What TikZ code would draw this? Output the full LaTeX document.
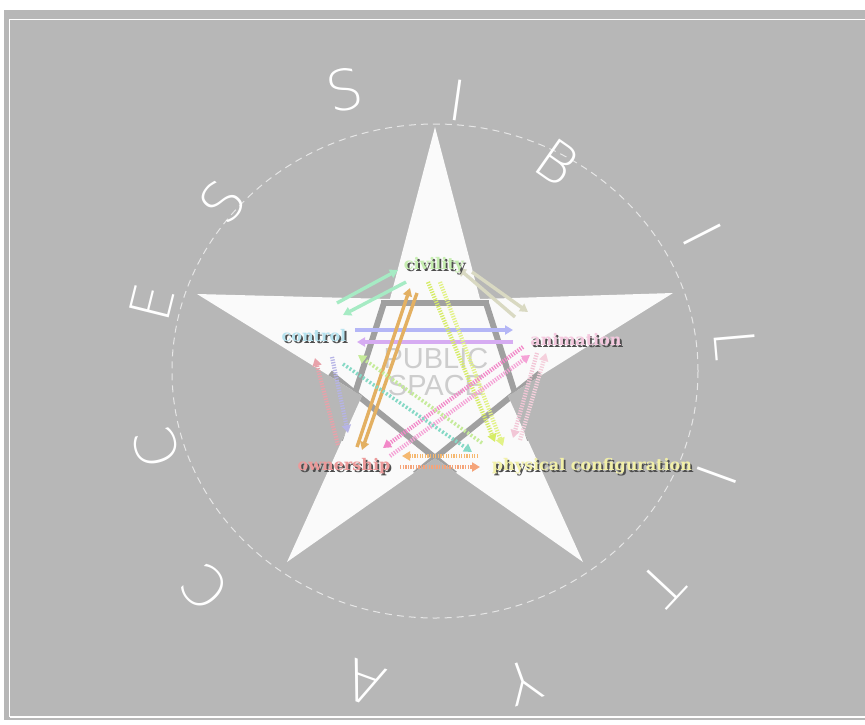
\documentclass[tikz,border=0pt]{standalone}
\usepackage{fontspec}
\usetikzlibrary{arrows.meta}
\newfontfamily\labelfont{DejaVu Serif}
\newfontfamily\psfont{Liberation Sans}
\IfFontExistsTF{DejaVu Sans ExtraLight}{\newfontfamily\handfont{DejaVu Sans ExtraLight}}{\newfontfamily\handfont{DejaVu Sans}}
\definecolor{bgray}{HTML}{B7B7B7}
\definecolor{starwhite}{HTML}{FAFAFA}
\definecolor{linegray}{HTML}{A0A0A0}
\definecolor{circc}{HTML}{E6E6E6}
\definecolor{psgray}{HTML}{CDCDCD}
\definecolor{shadowc}{HTML}{4E4E4E}
\definecolor{cgreen}{HTML}{A6EBC4}
\definecolor{cbeige}{HTML}{D9D9C2}
\definecolor{cblue}{HTML}{B4B6F6}
\definecolor{clilac}{HTML}{D6ACF2}
\definecolor{corange}{HTML}{E3B062}
\definecolor{cyell}{HTML}{D6EC66}
\definecolor{cyellb}{HTML}{E2F286}
\definecolor{cpink}{HTML}{F288C8}
\definecolor{cpinkb}{HTML}{F5A2D6}
\definecolor{clpink}{HTML}{F2C6D6}
\definecolor{clpinkb}{HTML}{F5D0DC}
\definecolor{cred}{HTML}{E8A2AA}
\definecolor{clav}{HTML}{B6B4E6}
\definecolor{cteal}{HTML}{86D9C6}
\definecolor{clgreen}{HTML}{C6EB9A}
\definecolor{corh}{HTML}{F5B870}
\definecolor{corhb}{HTML}{F5A47A}
\definecolor{lcivil}{HTML}{C6EEB0}
\definecolor{lcontrol}{HTML}{B6E2EE}
\definecolor{lanim}{HTML}{F4C8DE}
\definecolor{lowner}{HTML}{EC9A9A}
\definecolor{lphys}{HTML}{F2F0A8}
\tikzset{
  solidarr/.style={line width=3.4pt, draw=#1, -{Triangle[length=8pt,width=9pt]}},
  hatcharr/.style={line width=4.2pt, draw=#1, dash pattern=on 1.3pt off 1.3pt, -{Triangle[length=8pt,width=9pt]}},
  dotarr/.style={line width=3.6pt, draw=#1, dash pattern=on 2pt off 2pt, -{Triangle[length=8pt,width=9pt]}},
  gline/.style={line width=6pt, draw=linegray},
  lab/.style={font=\labelfont\bfseries\fontsize{16}{18}\selectfont, inner sep=0pt},
  hand/.style={font=\handfont\fontsize{56}{56}\selectfont, text=white, inner sep=0pt},
}
\newcommand\arrw[4]{\coordinate (#4s) at (#2); \coordinate (#4e) at (#3); \draw[#1] (#4s) -- (#4e);}
\newcommand\lbl[4]{\node[lab, text=shadowc, xshift=1.8pt, yshift=-1.8pt] (#1sh) at (#2) {#4};
  \node[lab, text=#3] (#1) at (#2) {#4};}
\begin{document}
\begin{tikzpicture}[x=1pt,y=-1pt]
\useasboundingbox (0,0) rectangle (865,724);
\fill[white] (0,0) rectangle (865,724);
\fill[bgray] (4,10) rectangle (865,720);
\draw[white, line width=1.8pt] (9.5,717) -- (9.5,19.5) -- (865,19.5);
\draw[white, line width=1.2pt] (9.5,717) -- (865,717);
% dashed circle
\draw[circc, line width=1pt, dash pattern=on 7pt off 5pt] (435,371) ellipse [x radius=263, y radius=247];
% hand letters
\node[hand, rotate=160] (hA) at (365,683) {A};
\node[hand, rotate=133] (hC1) at (205,588) {C};
\node[hand, rotate=106] (hC2) at (157,448) {C};
\node[hand, rotate=76] (hE) at (152,302) {E};
\node[hand, rotate=52] (hS1) at (222,202) {S};
\node[hand, rotate=12] (hS2) at (345,90) {S};
\node[hand, rotate=-8] (hI1) at (458,100) {I};
\node[hand, rotate=-35] (hB) at (557,162) {B};
\node[hand, rotate=-63] (hI2) at (702,235) {I};
\node[hand, rotate=-85] (hL) at (735,345) {L};
\node[hand, rotate=-110] (hI3) at (717,475) {I};
\node[hand, rotate=-133] (hT) at (663,585) {T};
\node[hand, rotate=-160] (hY) at (523,683) {Y};
% star
\def\starpath{(435,127) -- (480,299) -- (673,293) -- (508,396) -- (583,562) -- (435,458) -- (287,562) -- (362,396) -- (197,294) -- (390,299) -- cycle}
\fill[starwhite] \starpath;
\begin{scope}
\clip \starpath;
\draw[gline] (381,303) -- (489,303);
\draw[gline] (384,303) -- (340,440);
\draw[gline] (486,303) -- (530,440);
\draw[gline] (330,373) -- (455,474);
\draw[gline] (540,373) -- (415,474);
\end{scope}
\node[font=\psfont\fontsize{29}{27}\selectfont, text=psgray, align=center, inner sep=0pt] (ps) at (436,372) {PUBLIC\\SPACE};
% arrows
\arrw{solidarr=cgreen}{337,303}{398,270}{g1}
\arrw{solidarr=cgreen}{406,282}{343,315}{g2}
\arrw{solidarr=cbeige}{472,272}{528,312}{b1}
\arrw{solidarr=cbeige}{515,317}{458,268}{b2}
\arrw{solidarr=cblue}{355,330}{513,330}{p1}
\arrw{solidarr=clilac}{513,342}{357,342}{p2}
\arrw{solidarr=corange}{357,447}{410,288}{o1}
\arrw{solidarr=corange}{417,293}{362,450}{o2}
\arrw{hatcharr=cyell}{428,282}{495,442}{y1}
\arrw{hatcharr=cyellb}{440,282}{503,446}{y2}
\arrw{hatcharr=cpink}{523,347}{383,448}{k1}
\arrw{hatcharr=cpinkb}{390,456}{530,355}{k2}
\arrw{hatcharr=clpink}{537,353}{513,438}{l1}
\arrw{hatcharr=clpinkb}{520,440}{546,353}{l2}
\arrw{hatcharr=cred}{338,445}{315,358}{r1}
\arrw{hatcharr=clav}{332,357}{348,433}{v1}
\arrw{dotarr=cteal}{343,364}{472,452}{t1}
\arrw{dotarr=clgreen}{482,443}{358,355}{t2}
\arrw{hatcharr=corh}{478,456}{402,456}{h1}
\arrw{hatcharr=corhb}{400,467}{480,467}{h2}
% labels
\lbl{civ}{434,265}{lcivil}{civility}
\lbl{con}{314,336}{lcontrol}{control}
\lbl{ani}{576,340}{lanim}{animation}
\lbl{own}{344,466}{lowner}{ownership}
\lbl{phy}{592,466}{lphys}{physical configuration}
\end{tikzpicture}
\end{document}
